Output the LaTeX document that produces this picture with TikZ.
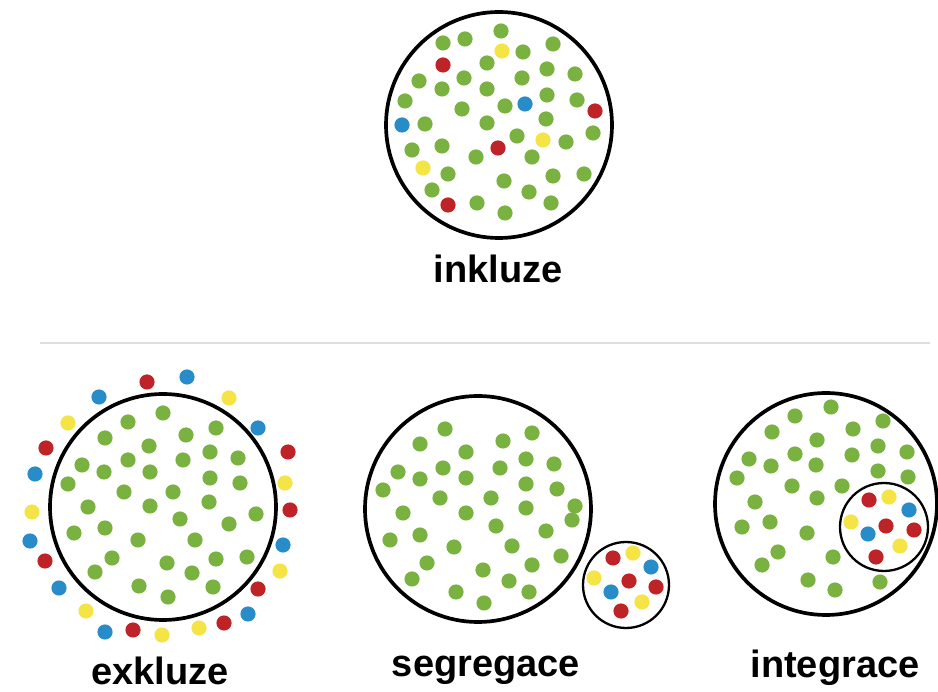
\documentclass[tikz,border=0pt]{standalone}
\usepackage{fontspec}
\setmainfont{Liberation Sans}
\definecolor{dgreen}{RGB}{122,178,66}
\definecolor{dred}{RGB}{190,35,40}
\definecolor{dblue}{RGB}{40,140,200}
\definecolor{dyellow}{RGB}{245,228,70}
\tikzset{
  lbl/.style={font=\fontsize{38}{40}\selectfont\bfseries, inner sep=0pt, anchor=base},
  bigring/.style={draw=black, line width=3.7pt},
  smallring/.style={draw=black, line width=2.3pt, fill=white},
}
\def\dr{7.6pt}
\begin{document}
\begin{tikzpicture}[x=1pt,y=-1pt]
\useasboundingbox[fill=white] (0,0) rectangle (938,692);
% separator
\draw[black!13, line width=1.6pt] (40,343) -- (930,343);

% ---------- inkluze ----------
\foreach \x/\y in {501/31,465/39,443/43,553/44,523/52,487/63,547/69,575/74,419/81,464/78,522/78,442/89,487/89,547/95,577/100,405/101,505/106,462/109,425/124,487/123,546/119,517/136,566/142,593/133,412/150,442/146,476/157,532/157,448/174,553/176,584/174,504/181,529/192,432/190,477/203,551/203,505/213}
  \fill[dgreen] (\x,\y) circle[radius=\dr];
\foreach \x/\y in {502/51,543/140,423/168} \fill[dyellow] (\x,\y) circle[radius=\dr];
\foreach \x/\y in {443/65,595/111,498/148,448/205} \fill[dred] (\x,\y) circle[radius=\dr];
\foreach \x/\y in {525/104,402/125} \fill[dblue] (\x,\y) circle[radius=\dr];
\draw[bigring] (499,125) circle[radius=113pt];
\node[lbl] (inkluze) at (498,283) {inkluze};

% ---------- exkluze ----------
\foreach \x/\y in {163/413,128/422,186/435,216/428,105/438,149/446,210/452,238/458,82/465,128/460,183/460,104/472,150/472,68/484,210/478,240/483,124/492,173/492,88/507,150/506,209/502,256/514,180/519,229/524,74/533,105/528,138/540,195/540,112/558,167/563,216/559,247/557,95/572,192/573,139/586,213/587,168/597}
  \fill[dgreen] (\x,\y) circle[radius=\dr];
\foreach \x/\y in {147/382,46/448,288/452,290/510,45/561,258/589,224/623,133/630}
  \fill[dred] (\x,\y) circle[radius=\dr];
\foreach \x/\y in {187/377,99/397,258/428,35/474,30/541,283/545,59/588,248/614,105/632}
  \fill[dblue] (\x,\y) circle[radius=\dr];
\foreach \x/\y in {229/398,68/423,285/483,32/512,280/571,86/611,199/628,162/635}
  \fill[dyellow] (\x,\y) circle[radius=\dr];
\draw[bigring] (163,507) circle[radius=113pt];
\node[lbl] (exkluze) at (160,684) {exkluze};

% ---------- segregace ----------
\foreach \x/\y in {445/429,532/433,420/444,503/441,466/452,526/459,554/464,398/472,443/468,500/468,420/479,466/478,526/484,557/489,383/490,440/498,491/498,575/506,572/520,403/513,466/513,526/508,496/526,546/531,390/540,420/535,454/547,512/546,561/556,427/563,532/565,483/570,412/579,509/581,456/592,529/592,484/603}
  \fill[dgreen] (\x,\y) circle[radius=\dr];
\draw[bigring] (478,509) circle[radius=113pt];
\draw[smallring] (626,585) circle[radius=43pt];
\foreach \x/\y in {613/558,629/581,656/587,621/611} \fill[dred] (\x,\y) circle[radius=\dr];
\foreach \x/\y in {633/553,594/578,642/602} \fill[dyellow] (\x,\y) circle[radius=\dr];
\foreach \x/\y in {651/567,611/592} \fill[dblue] (\x,\y) circle[radius=\dr];
\node[lbl] (segregace) at (486,676) {segregace};

% ---------- integrace ----------
\foreach \x/\y in {831/407,795/416,883/421,772/432,853/429,817/440,749/459,795/454,878/446,907/452,771/466,816/465,852/455,737/478,878/471,908/477,792/486,842/486,755/502,817/498,742/527,770/522,807/533,778/552,762/565,833/557,880/582,808/580,835/590}
  \fill[dgreen] (\x,\y) circle[radius=\dr];
\draw[bigring] (826,504) circle[radius=111pt];
\draw[line width=2.3pt] (884,527) circle[radius=44pt];
\foreach \x/\y in {869/500,886/526,914/530,876/557} \fill[dred] (\x,\y) circle[radius=\dr];
\foreach \x/\y in {889/497,851/522,900/546} \fill[dyellow] (\x,\y) circle[radius=\dr];
\foreach \x/\y in {909/510,868/534} \fill[dblue] (\x,\y) circle[radius=\dr];
\node[lbl] (integrace) at (835,677) {integrace};
\end{tikzpicture}
\end{document}
